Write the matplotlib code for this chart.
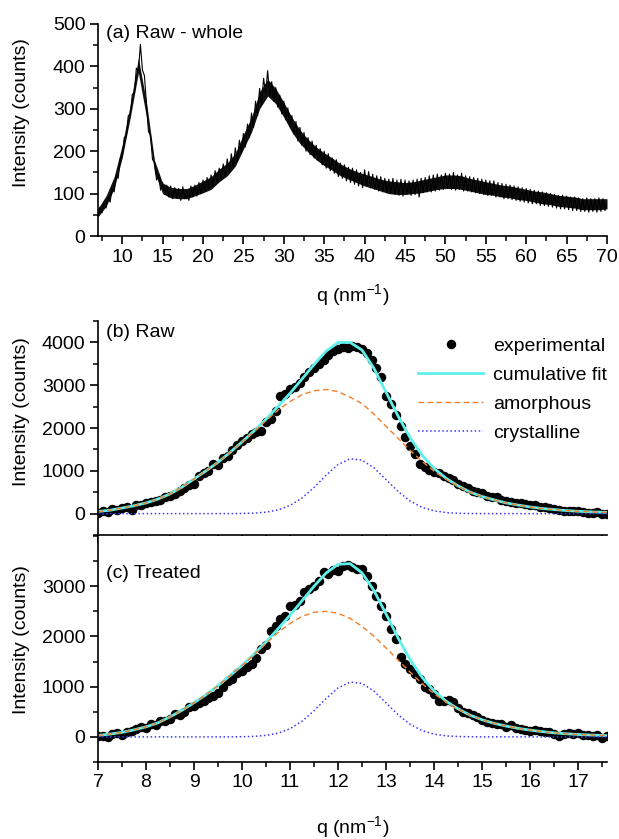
import numpy as np
import matplotlib
matplotlib.use("Agg")
import matplotlib.pyplot as plt
from matplotlib.ticker import MultipleLocator

plt.rcParams['font.family'] = ['Liberation Sans', 'DejaVu Sans']
plt.rcParams['mathtext.fontset'] = 'custom'
plt.rcParams['mathtext.rm'] = 'Liberation Sans'
plt.rcParams['mathtext.default'] = 'regular'

# ---- (a) whole pattern, q grid every 0.25 nm^-1 from 7 to 70
q_whole = np.linspace(7, 70, 253)
i_whole = [
    48, 68, 55, 78, 66, 92, 80, 112, 104, 142, 136, 182,
    186, 232, 236, 284, 286, 334, 338, 396, 388, 452, 392, 378,
    312, 246, 238, 180, 174, 132, 146, 108, 126, 98, 120, 92,
    118, 88, 114, 90, 112, 84, 116, 88, 106, 84, 118, 92,
    120, 94, 126, 100, 132, 106, 138, 112, 144, 118, 154, 126,
    160, 132, 170, 142, 182, 150, 194, 164, 208, 176, 226, 196,
    242, 210, 264, 232, 290, 256, 318, 284, 348, 312, 372, 336,
    390, 330, 364, 318, 350, 304, 332, 288, 318, 274, 302, 258,
    284, 240, 270, 224, 256, 214, 244, 200, 232, 192, 224, 184,
    214, 178, 206, 168, 200, 160, 194, 154, 184, 148, 180, 140,
    172, 136, 168, 130, 162, 126, 160, 122, 156, 118, 150, 114,
    156, 120, 152, 114, 146, 110, 142, 106, 140, 104, 136, 102,
    134, 100, 136, 98, 132, 96, 134, 94, 132, 98, 130, 96,
    132, 98, 134, 92, 136, 102, 138, 104, 142, 104, 144, 106,
    146, 108, 144, 110, 148, 112, 146, 110, 150, 108, 144, 110,
    148, 106, 142, 106, 140, 104, 138, 102, 136, 100, 134, 98,
    132, 96, 130, 96, 130, 92, 126, 92, 124, 88, 122, 88,
    120, 86, 118, 84, 116, 82, 114, 80, 112, 78, 110, 76,
    108, 76, 106, 72, 104, 72, 102, 70, 100, 68, 98, 66,
    96, 64, 96, 64, 94, 62, 92, 60, 92, 60, 90, 58,
    88, 58, 90, 56, 88, 58, 88, 56, 90, 58, 88, 60,
    78,
]
# noise band of (a), read every 1 nm^-1 from 7 to 70
q_band = np.arange(7, 71)
band_lo = [45, 70, 112, 185, 280, 385, 280, 150, 100, 90, 88, 88, 95, 102,
           110, 128, 142, 165, 205, 245, 300, 330, 312, 280, 245, 218, 198,
           180, 166, 155, 142, 134, 126, 118, 112, 106, 100, 98, 98, 100,
           102, 106, 110, 112, 112, 110, 106, 102, 98, 96, 92, 90, 86, 84,
           80, 76, 74, 70, 68, 66, 62, 62, 62, 64]
band_hi = [65, 95, 140, 215, 310, 420, 315, 178, 125, 115, 112, 112, 120,
           130, 140, 158, 172, 195, 240, 280, 340, 370, 348, 315, 280, 250,
           228, 210, 196, 184, 170, 160, 152, 146, 140, 134, 130, 128, 126,
           128, 132, 136, 140, 144, 144, 142, 136, 132, 128, 124, 120, 118,
           114, 110, 106, 104, 100, 96, 94, 92, 88, 88, 88, 88]

# ---- fits for (b) and (c)
q_fit = [7.0, 7.25, 7.5, 7.75, 8.0, 8.25, 8.5, 8.75, 9.0, 9.25, 9.5, 9.75,
         10.0, 10.25, 10.5, 10.75, 11.0, 11.25, 11.5, 11.75, 12.0, 12.25,
         12.5, 12.75, 13.0, 13.25, 13.5, 13.75, 14.0, 14.25, 14.5, 14.75,
         15.0, 15.25, 15.5, 15.75, 16.0, 16.25, 16.5, 16.75, 17.0, 17.25,
         17.5, 17.6]

raw_amorph = [50, 80, 130, 185, 250, 340, 460, 620, 810, 1000, 1200, 1430,
              1670, 1920, 2170, 2420, 2620, 2780, 2870, 2900, 2850, 2720,
              2570, 2320, 2040, 1760, 1480, 1220, 990, 800, 640, 500,
              400, 320, 250, 200, 155, 120, 95, 72, 55, 42, 32, 28]
raw_cryst = [0, 0, 0, 0, 0, 0, 0, 0, 0, 0, 0, 0,
             4, 12, 35, 87, 191, 366, 612, 896, 1147, 1281,
             1250, 1067, 794, 517, 294, 146, 64, 24, 8, 2,
             0, 0, 0, 0, 0, 0, 0, 0, 0, 0, 0, 0]
raw_cumul = [50, 80, 130, 185, 250, 340, 460, 620, 810, 1000, 1200, 1430,
             1674, 1932, 2205, 2507, 2811, 3146, 3482, 3796, 3997, 4001,
             3820, 3387, 2834, 2277, 1774, 1366, 1054, 824, 648, 502,
             400, 320, 250, 200, 155, 120, 95, 72, 55, 42, 32, 28]

trt_amorph = [30, 55, 90, 140, 200, 280, 400, 530, 680, 840, 1020, 1220,
              1420, 1640, 1860, 2080, 2260, 2400, 2480, 2500, 2460, 2360,
              2200, 2000, 1770, 1530, 1290, 1060, 860, 690, 550, 430,
              340, 270, 215, 170, 135, 105, 80, 62, 48, 37, 28, 25]
trt_cryst = [0, 0, 0, 0, 0, 0, 0, 0, 0, 0, 0, 0,
             3, 10, 30, 74, 163, 312, 521, 763, 977, 1091,
             1065, 909, 676, 440, 250, 124, 54, 20, 7, 2,
             0, 0, 0, 0, 0, 0, 0, 0, 0, 0, 0, 0]
trt_cumul = [30, 55, 90, 140, 200, 280, 400, 530, 680, 840, 1020, 1220,
             1423, 1650, 1890, 2154, 2423, 2712, 3001, 3263, 3437, 3451,
             3265, 2909, 2446, 1970, 1540, 1184, 914, 710, 557, 432,
             340, 270, 215, 170, 135, 105, 80, 62, 48, 37, 28, 25]

# ---- experimental points, every 0.1 nm^-1 from 7.0 to 17.6
q_exp = np.linspace(7.0, 17.6, 107)
raw_exp = [20, 60, 40, 110, 90, 130, 150, 80, 190, 210,
           240, 260, 300, 320, 380, 420, 470, 520, 600, 680,
           700, 880, 960, 1000, 1150, 1140, 1300, 1340, 1480, 1600,
           1700, 1760, 1850, 1900, 1920, 2150, 2200, 2400, 2750, 2800,
           2900, 2950, 3050, 3200, 3300, 3400, 3500, 3600, 3700, 3800,
           3850, 3900, 3880, 3920, 3900, 3850, 3750, 3600, 3400, 3200,
           2750, 2550, 2300, 2050, 1800, 1580, 1400, 1150, 1080, 1020,
           980, 940, 880, 830, 780, 700, 640, 600, 540, 500,
           480, 420, 390, 380, 330, 300, 280, 250, 240, 230,
           200, 190, 160, 150, 130, 110, 80, 70, 50, 60,
           70, 40, 20, 10, 30, -10, 0]
trt_exp = [10, 20, 0, 50, 80, 30, 90, 110, 150, 200,
           180, 260, 230, 310, 320, 360, 460, 440, 490, 600,
           620, 680, 720, 780, 820, 870, 1000, 1120, 1150, 1280,
           1320, 1400, 1450, 1580, 1750, 1820, 2100, 2200, 2350, 2400,
           2600, 2620, 2700, 2880, 2950, 3000, 3100, 3280, 3250, 3320,
           3300, 3400, 3420, 3380, 3350, 3350, 3200, 3000, 2800, 2600,
           2400, 2150, 1950, 1600, 1450, 1350, 1250, 1150, 1000, 950,
           850, 720, 720, 740, 700, 580, 500, 480, 440, 400,
           340, 300, 280, 260, 250, 200, 230, 180, 150, 140,
           120, 130, 110, 100, 90, 60, 20, 50, 80, 60,
           70, 40, 30, 20, 40, -20, 20]

FS = 14
fig = plt.figure(figsize=(6.19, 8.39), dpi=100)
ax_a = fig.add_axes([0.1583, 0.7187, 0.8223, 0.2527])
ax_b = fig.add_axes([0.1583, 0.3623, 0.8223, 0.2551])
ax_c = fig.add_axes([0.1583, 0.0918, 0.8223, 0.2693])


def style(ax, ylab_y):
    ax.spines['top'].set_visible(False)
    ax.spines['right'].set_visible(False)
    for s in ('left', 'bottom'):
        ax.spines[s].set_linewidth(1.2)
    ax.tick_params(which='major', direction='out', length=6, width=1.2,
                   labelsize=FS, pad=3)
    ax.tick_params(which='minor', direction='out', length=3.5, width=1.1)
    ax.set_ylabel('Intensity (counts)', fontsize=FS)
    ax.yaxis.set_label_coords(-0.134, ylab_y)


# (a)
ax_a.fill_between(q_band, band_lo, band_hi, color='#111111', lw=0)
ax_a.plot(q_whole, i_whole, color='black', lw=0.8)
ax_a.set_xlim(7, 70)
ax_a.set_ylim(0, 500)
ax_a.xaxis.set_minor_locator(MultipleLocator(2.5))
ax_a.yaxis.set_major_locator(MultipleLocator(100))
ax_a.yaxis.set_minor_locator(MultipleLocator(50))
ax_a.set_xticks(range(10, 71, 5))
style(ax_a, 0.58)
ax_a.set_xlabel('q (nm$^{-1}$)', fontsize=FS, labelpad=12)
ax_a.text(0.015, 0.995, '(a) Raw - whole', transform=ax_a.transAxes,
          fontsize=FS, va='top', ha='left')

# (b) and (c)
panels = [
    (ax_b, raw_exp, raw_cumul, raw_amorph, raw_cryst, '(b) Raw', (-500, 4500), 0.985, 0.575),
    (ax_c, trt_exp, trt_cumul, trt_amorph, trt_cryst, '(c) Treated', (-500, 4000), 0.87, 0.54),
]
for ax, e, cu, am, cr, lab, yl, ty, ly in panels:
    ax.plot(q_exp, e, 'o', color='black', ms=5.8, label='experimental')
    ax.plot(q_fit, cu, '-', color='#5ff0ec', lw=2.0, label='cumulative fit')
    ax.plot(q_fit, am, '--', color='#f07f2a', lw=1.0, dashes=(4, 2.5), label='amorphous')
    ax.plot(q_fit, cr, ':', color='#3a3aff', lw=1.1, label='crystalline')
    ax.set_xlim(7, 17.6)
    ax.set_ylim(*yl)
    ax.xaxis.set_major_locator(MultipleLocator(1))
    ax.xaxis.set_minor_locator(MultipleLocator(0.5))
    ax.yaxis.set_minor_locator(MultipleLocator(500))
    ax.set_yticks(range(0, int(yl[1]) - 499, 1000))
    style(ax, ly)
    ax.text(0.015, ty, lab, transform=ax.transAxes,
            fontsize=FS, va='top', ha='left')

ax_b.tick_params(labelbottom=False)
ax_c.set_xlabel('q (nm$^{-1}$)', fontsize=FS, labelpad=16)
ax_b.legend(loc='upper right', bbox_to_anchor=(1.035, 1.005), frameon=False,
            fontsize=FS, numpoints=1, handlelength=3.3, labelspacing=0.58,
            handletextpad=0.55)

fig.savefig('out.png', dpi=100)
